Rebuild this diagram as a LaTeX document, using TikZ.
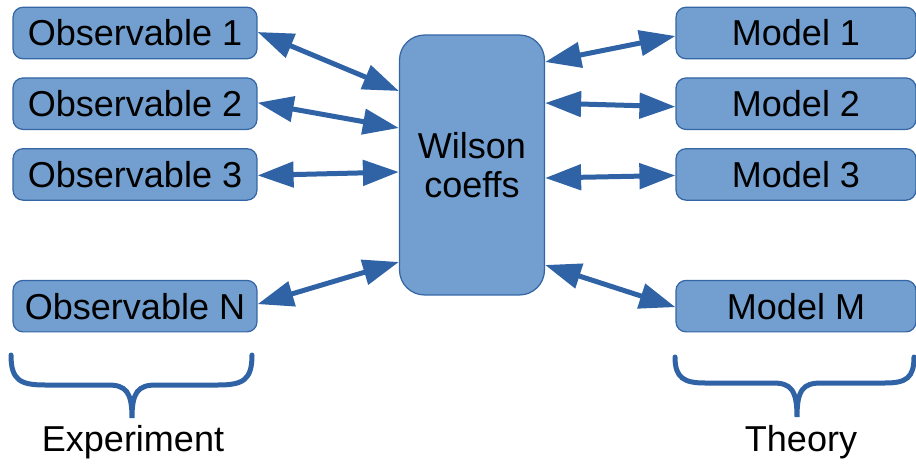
\documentclass[tikz,border=0pt]{standalone}
\usepackage{fontspec}
\setmainfont{Liberation Sans}
\usetikzlibrary{arrows.meta, positioning}
\definecolor{boxfill}{HTML}{729FCF}
\definecolor{boxline}{HTML}{3465A4}
\definecolor{linkblue}{HTML}{3063A5}
\tikzset{
    item/.style = {rectangle, rounded corners=0.2cm, minimum width=4.88cm, minimum height=1.03cm, text centered, draw=boxline, fill=boxfill, line width=0.7pt, font=\fontsize{20.5}{24}\selectfont},
    coeffs/.style = {rectangle, rounded corners=0.5cm, minimum width=2.9cm, minimum height=5.2cm, align=center, draw=boxline, fill=boxfill, line width=0.7pt, font=\fontsize{20.5}{22.5}\selectfont},
    link/.style = {line width=0.1cm, draw=linkblue, {Triangle[length=0.72cm, width=0.5cm]}-{Triangle[length=0.72cm, width=0.5cm]}},
    bracket/.style = {line width=0.1cm, draw=linkblue, line cap=round},
    caption/.style = {font=\fontsize{20.5}{24}\selectfont}
}

\begin{document}
\begin{tikzpicture}[x=0.02cm, y=-0.02cm]
\useasboundingbox (0,0) rectangle (916,466);

% Experiment side
\node (obs1) [item] at (135,33) {Observable 1};
\node (obs2) [item, below=0.36cm of obs1] {Observable 2};
\node (obs3) [item, below=0.36cm of obs2] {Observable 3};
\node (obsN) [item, below=1.58cm of obs3] {Observable N};

% Theory side
\node (model1) [item, minimum width=4.8cm] at (796,33) {Model 1};
\node (model2) [item, minimum width=4.8cm, below=0.36cm of model1] {Model 2};
\node (model3) [item, minimum width=4.8cm, below=0.36cm of model2] {Model 3};
\node (modelM) [item, minimum width=4.8cm, below=1.58cm of model3] {Model M};

% Middle
\node (wilson) [coeffs] at (472,165) {Wilson\\coeffs};

% Connections - observables
\draw [link] ([yshift=0.02cm]obs1.east) -- ([yshift=1.48cm]wilson.west);
\draw [link] ([yshift=0.02cm]obs2.east) -- ([yshift=0.74cm]wilson.west);
\draw [link] ([yshift=-0.02cm]obs3.east) -- ([yshift=-0.14cm]wilson.west);
\draw [link] ([yshift=0.04cm]obsN.east) -- ([yshift=-1.94cm]wilson.west);

% Connections - models
\draw [link] ([yshift=2.06cm]wilson.east) -- ([yshift=-0.06cm]model1.west);
\draw [link] ([yshift=1.24cm]wilson.east) -- ([yshift=-0.06cm]model2.west);
\draw [link] ([yshift=-0.26cm]wilson.east) -- ([yshift=-0.02cm]model3.west);
\draw [link] ([yshift=-2.0cm]wilson.east) -- ([yshift=-0.02cm]modelM.west);

% Braces
\draw [bracket] (11,355) .. controls (11,380) and (20,385) .. (45,385) -- (108,385)
    .. controls (126,385) and (132,392) .. (132,418)
    .. controls (132,392) and (138,385) .. (156,385) -- (218,385)
    .. controls (243,385) and (252,380) .. (252,355);
\draw [bracket] (675,357) .. controls (675,378) and (684,383) .. (705,383) -- (773,383)
    .. controls (791,383) and (797,390) .. (797,417)
    .. controls (797,390) and (803,383) .. (821,383) -- (885,383)
    .. controls (906,383) and (914,378) .. (914,357);

\node (exp) [caption] at (133,442) {Experiment};
\node (theo) [caption] at (801,442) {Theory};

\end{tikzpicture}
\end{document}
